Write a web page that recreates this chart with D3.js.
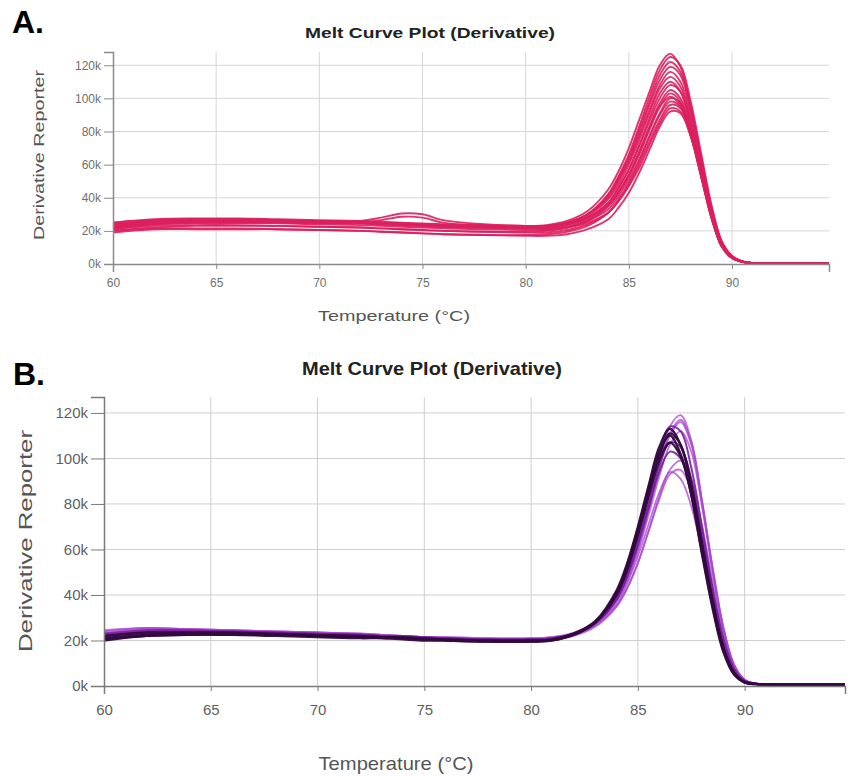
<!DOCTYPE html>
<html>
<head>
<meta charset="utf-8">
<script src="https://cdn.jsdelivr.net/npm/d3@7"></script>
<style>
  body { margin: 0; background: #fff; }
  svg { display: block; font-family: "Liberation Sans", Arial, sans-serif; }
</style>
</head>
<body>
<div class="chart-container"></div>
<script>
// temperature points (°C) shared by every run
const temps = [60, 62, 64, 66, 68, 70, 72, 73, 74, 75, 76, 78, 80, 81, 82, 83, 84, 84.5,
  85, 85.5, 86, 86.5, 87, 87.5, 88, 88.5, 89, 89.5, 90, 90.5, 91, 92, 94.7];

const xTicks = [60, 65, 70, 75, 80, 85, 90];
const yTicks = [0, 20, 40, 60, 80, 100, 120]; // thousands

// panel A runs, derivative reporter in thousands
const pinkRuns = [
  [24, 26.5, 27, 27, 26.5, 26, 25.5, 25, 24.5, 24, 23.5, 23, 23, 23.5, 26, 32, 45, 56, 70, 87, 104, 120, 127, 119, 95, 64, 34, 13, 4.5, 1.5, 0.6, 0.4, 0.4],
  [22, 25, 26, 26, 26, 25.5, 25, 24.5, 24, 23.5, 23, 22.5, 22.5, 23, 25, 30, 42, 53, 66, 83, 101, 117, 125, 120, 98, 67, 36, 14, 5, 1.6, 0.6, 0.4, 0.4],
  [25, 27, 27.5, 27.5, 27, 26.5, 26, 25.5, 25, 24.5, 24, 23.5, 23, 23, 25, 30, 42, 52, 65, 81, 98, 114, 122, 116, 94, 64, 34, 13, 4.5, 1.5, 0.6, 0.4, 0.4],
  [23, 25.5, 26.5, 26.5, 26, 25.5, 25, 24.5, 24, 23.5, 23, 22.5, 22, 22.5, 24.5, 30, 41, 51, 63, 79, 96, 111, 119, 114, 92, 63, 33, 12.5, 4.3, 1.5, 0.6, 0.4, 0.4],
  [23, 25.5, 26, 26, 26, 25.5, 26, 28, 30.5, 30, 26.5, 24, 23, 23, 25, 30, 40, 50, 62, 77, 93, 108, 116, 110, 89, 61, 33, 13, 4.5, 1.5, 0.6, 0.4, 0.4],
  [21, 24, 25, 25.5, 25.5, 25, 24.5, 24, 23.5, 23, 22.5, 22, 21.5, 22, 24, 29, 39, 48, 60, 75, 91, 106, 113, 107, 86, 59, 32, 12, 4, 1.4, 0.6, 0.4, 0.4],
  [22, 24.5, 25, 25, 25, 24.5, 25, 26.5, 28.5, 28, 25, 23, 22, 22.5, 24, 28, 37, 46, 57, 72, 88, 103, 110, 104, 83, 56, 30, 11, 4, 1.4, 0.6, 0.4, 0.4],
  [24, 26, 26.5, 26.5, 26, 25.5, 25, 24.5, 24, 23.5, 23, 22.5, 22, 22, 24, 28, 37, 46, 57, 71, 86, 100, 108, 104, 85, 58, 31, 12, 4, 1.4, 0.6, 0.4, 0.4],
  [20, 22, 23, 23, 23, 22.5, 22, 21.5, 21, 20.5, 20, 19.5, 19.5, 20, 22, 26, 35, 43, 54, 68, 83, 97, 105, 100, 81, 55, 29, 11, 3.8, 1.3, 0.6, 0.4, 0.4],
  [23, 25, 25.5, 25.5, 25.5, 25, 24.5, 24, 23.5, 23, 22.5, 22, 21.5, 21.5, 23, 27, 35, 43, 53, 66, 81, 95, 103, 98, 80, 55, 29, 11, 3.8, 1.3, 0.6, 0.4, 0.4],
  [25, 26.5, 27, 27, 26.5, 26, 25.5, 25, 24.5, 24, 23.5, 23, 22.5, 22.5, 24, 28, 36, 44, 54, 67, 82, 95, 101, 96, 78, 53, 28, 10.5, 3.6, 1.3, 0.6, 0.4, 0.4],
  [19, 21, 21, 21, 21, 20.5, 20, 19.5, 19, 18.5, 18, 17.5, 17.5, 18, 19.5, 23, 31, 39, 49, 62, 77, 91, 100, 97, 80, 55, 29, 11, 3.8, 1.3, 0.6, 0.4, 0.4],
  [22, 24, 24.5, 24.5, 24.5, 24, 23.5, 23, 22.5, 22, 21.5, 21, 20.5, 20.5, 22, 26, 33, 41, 51, 63, 77, 90, 98, 95, 78, 53, 28, 10.5, 3.6, 1.3, 0.6, 0.4, 0.4],
  [21, 23, 23.5, 23.5, 23, 22.5, 22, 21.5, 21, 20.5, 20, 19.5, 19, 19, 20.5, 24, 31, 38, 48, 60, 74, 87, 96, 94, 78, 54, 29, 11, 3.8, 1.3, 0.6, 0.4, 0.4],
  [24, 25.5, 26, 26, 25.5, 25, 24.5, 24, 23.5, 23, 22.5, 22, 21.5, 21, 22, 25, 31, 38, 47, 58, 72, 85, 94, 92, 77, 53, 28, 10.5, 3.6, 1.3, 0.6, 0.4, 0.4],
  [20, 21.5, 21.5, 21.5, 21, 20.5, 20, 19.5, 19, 18.5, 18, 17.5, 17, 17, 18, 21, 27, 34, 43, 55, 69, 83, 92, 91, 77, 54, 29, 11, 3.8, 1.3, 0.6, 0.4, 0.4]
];

// panel B runs, light / mid / dark purple groups
const lightRuns = [
  [24, 25.5, 25, 24.5, 24, 23.5, 23, 22.5, 22, 21.5, 21.5, 21, 21, 21.5, 23.5, 28, 39, 49, 62, 79, 98, 114, 119, 108, 82, 52, 26, 9.5, 2.8, 1.1, 0.7, 0.6, 0.6],
  [23, 25, 25, 24.5, 24, 23.5, 23, 22.5, 22, 21.5, 21, 20.5, 20.5, 21, 23, 27.5, 38, 48, 61, 78, 96, 111, 117, 107, 81, 51, 25, 9, 2.6, 1.1, 0.7, 0.6, 0.6],
  [22, 24, 24, 24, 23.5, 23, 22.5, 22, 21.5, 21, 21, 20.5, 20.5, 21, 22.5, 27, 37, 46, 59, 75, 92, 106, 112, 103, 79, 50, 25, 9, 2.6, 1.1, 0.7, 0.6, 0.6],
  [21, 23, 23.5, 23.5, 23, 22.5, 22, 21.5, 21, 20.5, 20.5, 20, 20, 20.5, 22, 26, 35, 43, 54, 68, 83, 95, 99, 91, 71, 46, 23, 8.5, 2.5, 1, 0.7, 0.6, 0.6],
  [23.5, 25, 24.5, 24, 23.5, 23, 22.5, 22, 21.5, 21.5, 21, 20.5, 20.5, 21, 22.5, 26.5, 35, 43, 54, 68, 82, 93, 95, 86, 66, 42, 21, 8, 2.3, 1, 0.7, 0.6, 0.6],
  [22, 23.5, 23.5, 23.5, 23, 22.5, 22, 21.5, 21, 21, 20.5, 20, 20, 20.5, 22.5, 27, 36, 45, 57, 71, 85, 94, 91, 79, 59, 37, 18, 6.5, 2, 0.9, 0.7, 0.6, 0.6],
  [24.5, 25.5, 25, 24.5, 24, 23.5, 23, 22.5, 22, 21.5, 21.5, 21, 21, 21.5, 23, 27.5, 38, 47, 60, 77, 95, 110, 116, 106, 81, 52, 26, 9.5, 2.8, 1.1, 0.7, 0.6, 0.6]
];

const midRuns = [
  [23, 24.5, 24.5, 24, 23.5, 23, 22.5, 22, 22, 21.5, 21, 20.5, 20.5, 21, 23, 28, 40, 51, 66, 84, 102, 114, 112, 96, 70, 43, 21, 7.5, 2.2, 1, 0.7, 0.6, 0.6],
  [21.5, 23, 23.5, 23.5, 23, 22.5, 22, 21.5, 21, 20.5, 20.5, 20, 20, 20.5, 22.5, 27.5, 38, 48, 62, 78, 94, 103, 100, 86, 63, 39, 19, 7, 2, 0.9, 0.7, 0.6, 0.6],
  [22.5, 24, 24, 24, 23.5, 23, 22.5, 22, 21.5, 21, 21, 20.5, 20.5, 21, 23, 27.5, 38, 49, 63, 80, 97, 107, 105, 91, 67, 42, 20, 7.5, 2.2, 1, 0.7, 0.6, 0.6]
];

const darkRuns = [
  [20, 22, 22.5, 22.5, 22.5, 22, 21.5, 21.5, 21, 20.5, 20.5, 20, 20, 20.5, 23, 28.5, 42, 54, 70, 88, 105, 113, 106, 88, 62, 37, 17, 6, 1.8, 0.9, 0.7, 0.6, 0.6],
  [21, 22.5, 23, 23, 22.5, 22, 21.5, 21, 21, 20.5, 20, 19.5, 19.5, 20, 22.5, 28, 41, 53, 69, 87, 103, 110, 102, 84, 58, 34, 15, 5, 1.5, 0.8, 0.7, 0.6, 0.6],
  [22, 23.5, 23.5, 23.5, 23, 22.5, 22, 21.5, 21.5, 21, 20.5, 20, 20, 20.5, 23, 28, 40, 52, 67, 85, 101, 111, 106, 89, 63, 38, 17, 6, 1.8, 0.9, 0.7, 0.6, 0.6],
  [20.5, 22, 22.5, 22.5, 22, 21.5, 21, 21, 20.5, 20, 20, 19.5, 19.5, 20, 22.5, 28, 40, 51, 66, 83, 99, 107, 101, 84, 59, 35, 16, 5.5, 1.6, 0.8, 0.7, 0.6, 0.6]
];

const width = 858, height = 776;

const svg = d3.select(".chart-container").append("svg")
  .attr("width", width)
  .attr("height", height);

function drawPanel(p) {
  const x = d3.scaleLinear().domain([60, 94.7]).range([p.left, p.right]);
  const y = d3.scaleLinear().domain([0, p.yMax]).range([p.bottom, p.top]);
  const g = svg.append("g");

  // grid
  g.append("g").selectAll("line")
    .data(xTicks.slice(1))
    .join("line")
      .attr("x1", d => x(d)).attr("x2", d => x(d))
      .attr("y1", p.top).attr("y2", p.bottom)
      .attr("stroke", p.grid).attr("stroke-width", 1);
  g.append("g").selectAll("line")
    .data(yTicks.slice(1))
    .join("line")
      .attr("x1", p.left).attr("x2", p.right)
      .attr("y1", d => y(d)).attr("y2", d => y(d))
      .attr("stroke", p.grid).attr("stroke-width", 1);

  const line = d3.line()
    .x((d, i) => x(temps[i]))
    .y(d => y(d))
    .curve(d3.curveCatmullRom.alpha(0.5));

  p.groups.forEach(grp => {
    g.append("g").selectAll("path")
      .data(grp.runs)
      .join("path")
        .attr("d", line)
        .attr("fill", "none")
        .attr("stroke", grp.color)
        .attr("stroke-width", grp.width)
        .attr("stroke-opacity", grp.opacity);
  });

  const xAxis = g.append("g")
    .attr("transform", `translate(0, ${p.bottom})`)
    .call(d3.axisBottom(x).tickValues(xTicks).tickSize(5).tickSizeOuter(8).tickPadding(p.xPad));
  const yAxis = g.append("g")
    .attr("transform", `translate(${p.left}, 0)`)
    .call(d3.axisLeft(y).tickValues(yTicks).tickFormat(d => d + "k").tickSize(p.yTick).tickSizeOuter(p.yTick).tickPadding(3));

  [xAxis, yAxis].forEach(a => {
    a.select(".domain").attr("stroke", p.axis).attr("stroke-width", 1.5);
    a.selectAll(".tick line").attr("stroke", p.axis);
    a.selectAll("text")
      .attr("fill", p.tickColor)
      .style("font-size", p.tickSize + "px")
      .style("font-family", "Liberation Sans, Arial, sans-serif");
  });

  // labels
  svg.append("text")
    .attr("x", p.tag[0]).attr("y", p.tag[1])
    .style("font-size", "32px").style("font-weight", "bold")
    .text(p.tagText);

  svg.append("text")
    .attr("x", p.title[0]).attr("y", p.title[1])
    .attr("text-anchor", "middle")
    .attr("textLength", p.title[3]).attr("lengthAdjust", "spacingAndGlyphs")
    .style("font-size", p.title[2] + "px").style("font-weight", "bold")
    .attr("fill", "#222")
    .text("Melt Curve Plot (Derivative)");

  svg.append("text")
    .attr("transform", `translate(${p.yLabel[0]}, ${p.yLabel[1]}) rotate(-90)`)
    .attr("text-anchor", "middle")
    .attr("textLength", p.yLabel[3]).attr("lengthAdjust", "spacingAndGlyphs")
    .style("font-size", p.yLabel[2] + "px")
    .attr("fill", "#555")
    .text("Derivative Reporter");

  svg.append("text")
    .attr("x", p.xLabel[0]).attr("y", p.xLabel[1])
    .attr("text-anchor", "middle")
    .attr("textLength", p.xLabel[3]).attr("lengthAdjust", "spacingAndGlyphs")
    .style("font-size", p.xLabel[2] + "px")
    .attr("fill", "#555")
    .text("Temperature (°C)");
}

drawPanel({
  left: 113, right: 829, top: 52, bottom: 264, yMax: 128,
  grid: "#d6d6d6", axis: "#8a8a8a", tickColor: "#6f6f6f", tickSize: 12,
  xPad: 9, yTick: 9,
  groups: [{ runs: pinkRuns, color: "#dc1f5f", width: 1.9, opacity: 0.9 }],
  tag: [12, 33], tagText: "A.",
  title: [430, 38, 15, 250],
  yLabel: [44, 155, 15, 170],
  xLabel: [394, 321, 15, 152]
});

drawPanel({
  left: 104, right: 845, top: 397, bottom: 686, yMax: 127,
  grid: "#cfcfcf", axis: "#7a7a7a", tickColor: "#5f5f5f", tickSize: 15,
  xPad: 13, yTick: 13,
  groups: [
    { runs: lightRuns, color: "#a845cf", width: 1.8, opacity: 0.75 },
    { runs: midRuns, color: "#76219a", width: 2, opacity: 0.9 },
    { runs: darkRuns, color: "#33093f", width: 2.3, opacity: 0.95 }
  ],
  tag: [13, 385], tagText: "B.",
  title: [432, 375, 19, 260],
  yLabel: [32, 541, 19, 222],
  xLabel: [396, 770, 19, 155]
});
</script>
</body>
</html>
